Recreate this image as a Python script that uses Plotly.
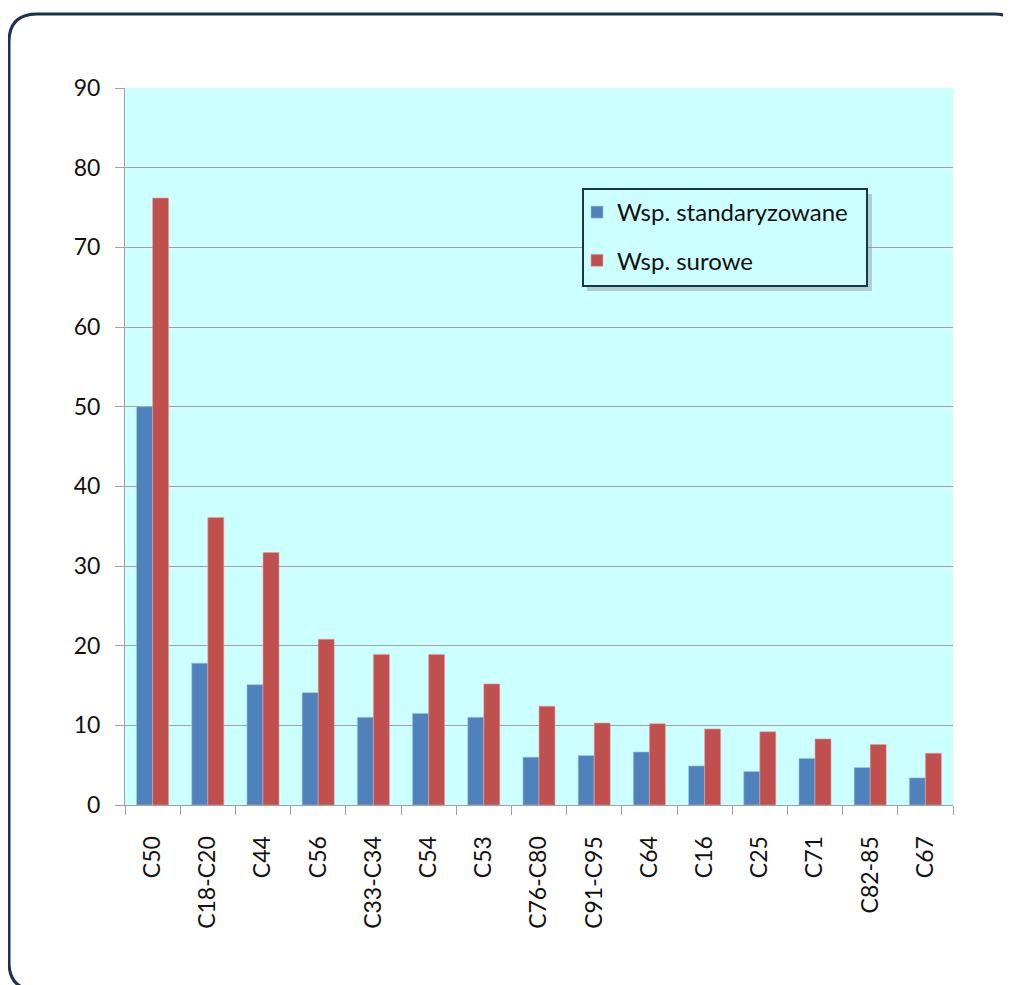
import plotly.graph_objects as go

categories = ["C50", "C18-C20", "C44", "C56", "C33-C34", "C54", "C53", "C76-C80",
              "C91-C95", "C64", "C16", "C25", "C71", "C82-85", "C67"]
std_values = [50.0, 17.8, 15.1, 14.1, 11.0, 11.5, 11.0, 6.0, 6.2, 6.65, 4.9, 4.2, 5.85, 4.7, 3.4]
raw_values = [76.2, 36.1, 31.7, 20.8, 18.9, 18.9, 15.2, 12.4, 10.3, 10.2, 9.55, 9.2, 8.3, 7.6, 6.5]
series_names = ["Wsp. standaryzowane", "Wsp. surowe"]
y_ticks = list(range(0, 91, 10))

# page body has an 8px margin; work in reference-window pixels and subtract it
OFF = 8
W, H = 1011 - OFF, 985 - OFF
L, R, T, B = 125 - OFF, 1011 - 953, 88 - OFF, 985 - 805
PW, PH = W - L - R, H - T - B

def px(x):
    return (x - OFF - L) / PW

def py(y):
    return (H - B - (y - OFF)) / PH

FONT = "Lato, 'Open Sans', sans-serif"
NAVY = "#1b3353"
TXT = "#111111"

fig = go.Figure()
fig.add_trace(go.Bar(x=categories, y=std_values, name=series_names[0],
                     marker=dict(color="#4F81BD", line=dict(width=0.6, color="#9fc0e6")),
                     legendgroup="a"))
fig.add_trace(go.Bar(x=categories, y=raw_values, name=series_names[1],
                     marker=dict(color="#C0504D", line=dict(width=0.6, color="#e6a3a1")),
                     legendgroup="b"))

# outer rounded frame
x0, x1, y0, y1 = px(9), px(1022), py(14), py(990)
r = 28
rx, ry = r / PW, r / PH
frame = (f"M {x0+rx} {y0} L {x1-rx} {y0} Q {x1} {y0} {x1} {y0-ry} "
         f"L {x1} {y1+ry} Q {x1} {y1} {x1-rx} {y1} L {x0+rx} {y1} "
         f"Q {x0} {y1} {x0} {y1+ry} L {x0} {y0-ry} Q {x0} {y0} {x0+rx} {y0} Z")

shapes = [
    dict(type="path", xref="paper", yref="paper", path=frame,
         line=dict(color=NAVY, width=3), layer="below"),
    # legend shadow
    dict(type="rect", xref="paper", yref="paper",
         x0=px(587), x1=px(872), y0=py(291), y1=py(194),
         fillcolor="rgba(120,120,120,0.35)", line=dict(width=0), layer="above"),
    # legend box
    dict(type="rect", xref="paper", yref="paper",
         x0=px(583), x1=px(867), y0=py(286), y1=py(189),
         fillcolor="#CCFFFF", line=dict(color=NAVY, width=2), layer="above"),
]

fig.update_layout(
    width=W, height=H,
    margin=dict(l=L, r=R, t=T, b=B, autoexpand=False),
    paper_bgcolor="white",
    plot_bgcolor="#CCFFFF",
    barmode="group",
    bargap=0.42,
    bargroupgap=0,
    font=dict(family=FONT, size=23, color=TXT),
    shapes=shapes,
    showlegend=True,
    legend=dict(x=px(577), y=py(190), xanchor="left", yanchor="top",
                bgcolor="rgba(0,0,0,0)", borderwidth=0,
                font=dict(family=FONT, size=24, color=TXT),
                tracegroupgap=14, traceorder="grouped"),
    xaxis=dict(type="category", showgrid=False, showline=True, linecolor="#a0a0a0",
               linewidth=1, ticks="outside", ticklen=9, tickcolor="#a0a0a0",
               tickson="boundaries", tickangle=-90, ticklabelstandoff=21,
               tickfont=dict(family=FONT, size=23, color=TXT)),
    yaxis=dict(range=[0, 90], tickvals=y_ticks, showgrid=True, gridcolor="#a0a0a0",
               gridwidth=1, showline=True, linecolor="#a0a0a0", linewidth=1,
               ticks="outside", ticklen=9, tickcolor="#a0a0a0", zeroline=False,
               ticklabelstandoff=10,
               tickfont=dict(family=FONT, size=23, color=TXT)),
)

fig.write_html("out.html")
